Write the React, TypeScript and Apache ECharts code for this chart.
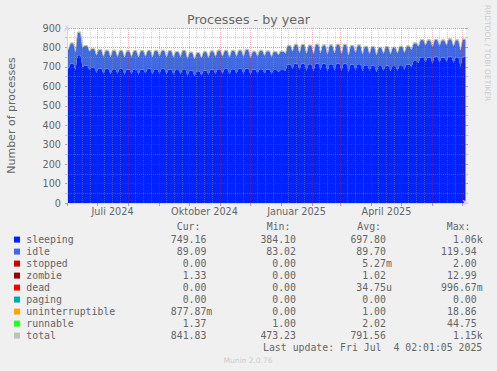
import React, { useEffect, useRef } from "react";
import * as echarts from "echarts";

// ---------- legend table ----------
const seriesNames = ["sleeping", "idle", "stopped", "zombie", "dead", "paging", "uninterruptible", "runnable", "total"];
const seriesColors = ["#0022ff", "#4169e1", "#cc0000", "#990000", "#ff0000", "#00aaaa", "#ffa500", "#22ff22", "#c0c0c0"];
const curValues = ["749.16", "89.09", "0.00", "1.33", "0.00", "0.00", "877.87m", "1.37", "841.83"];
const minValues = ["384.10", "83.02", "0.00", "0.00", "0.00", "0.00", "0.00", "1.00", "473.23"];
const avgValues = ["697.80", "89.70", "5.27m", "1.02", "34.75u", "0.00", "1.00", "2.02", "791.56"];
const maxValues = ["1.06k", "119.94", "2.00", "12.99", "996.67m", "0.00", "18.86", "44.75", "1.15k"];
const lastUpdate = "Last update: Fri Jul\u00a0\u00a04 02:01:05 2025";

// ---------- axes ----------
const yMin = 0;
const yMax = 900;
const yInterval = 100;
const xLabelDates = ["2024-07-16T12:00", "2024-10-16T12:00", "2025-01-16T12:00", "2025-04-16T12:00"];
const xLabels = ["Juli 2024", "Oktober 2024", "Januar 2025", "April 2025"];

// ---------- data: one dip (Sunday) and one plateau (Tue..Fri) per week, weeks from Sun 2 Jun 2024 ----------
const sleepingDip = [
  693, 684, 700, 684, 670, 665, 662, 665, 660, 664,
  660, 666, 662, 665, 662, 660, 664, 655, 652, 656,
  660, 664, 665, 662, 666, 664, 660, 666, 668, 665,
  672, 680, 690, 685, 680, 678, 684, 676, 682, 680,
  674, 684, 678, 680, 672, 680, 678, 680, 685, 700,
  720, 725, 718, 722, 726, 720, 700,
];
const sleepingPeak = [
  716, 760, 706, 695, 692, 690, 688, 690, 686, 688,
  686, 690, 688, 690, 686, 684, 688, 680, 678, 682,
  686, 688, 690, 688, 690, 692, 686, 688, 686, 684,
  684, 712, 718, 716, 714, 718, 716, 714, 718, 716,
  712, 714, 708, 706, 704, 706, 704, 708, 712, 730,
  750, 748, 752, 748, 754, 750, 752,
];
const idleDip = [
  96, 92, 98, 94, 88, 87, 88, 86, 88, 87,
  88, 86, 87, 88, 86, 88, 87, 86, 87, 88,
  86, 87, 88, 86, 87, 88, 86, 87, 88, 86,
  88, 87, 88, 86, 87, 88, 86, 87, 88, 87,
  86, 88, 87, 86, 88, 87, 86, 88, 87, 86,
  84, 85, 84, 86, 84, 85, 84,
];
const idlePeak = [
  104, 116, 100, 96, 94, 93, 95, 92, 94, 93,
  95, 92, 94, 93, 95, 92, 94, 93, 92, 94,
  93, 95, 92, 94, 93, 95, 92, 94, 93, 92,
  94, 96, 95, 97, 95, 96, 94, 96, 95, 97,
  95, 96, 94, 95, 93, 95, 94, 95, 93, 90,
  87, 88, 86, 88, 87, 86, 88,
];
// small series, one value per month Jun 2024 .. Jul 2025
const stoppedMonthly = [0, 0, 0, 0, 0, 0, 0, 0, 0, 0, 0, 0, 0, 0];
const zombieMonthly = [1, 1, 1, 1, 1, 1, 1, 1, 1, 1, 1, 1, 1, 1.3];
const deadMonthly = [0, 0, 0, 0, 0, 0, 0, 0, 0, 0, 0, 0, 0, 0];
const pagingMonthly = [0, 0, 0, 0, 0, 0, 0, 0, 0, 0, 0, 0, 0, 0];
const uninterruptibleMonthly = [1, 1, 1, 1, 1, 1, 1, 1, 1, 1, 1, 1, 1, 0.9];
const runnableMonthly = [2, 2, 2, 2, 2, 2, 2, 2, 2, 2, 2, 2, 2, 1.4];

const DAY = 86400000;
const xMinT = new Date(2024, 5, 1).getTime();
const xMaxT = new Date(2025, 6, 5).getTime();
const firstSunday = new Date(2024, 5, 2, 12).getTime();

const times: number[] = [xMinT];
for (let k = 0; k < sleepingDip.length; k++) {
  const sun = firstSunday + 7 * k * DAY;
  times.push(sun, sun + 2 * DAY, sun + 5 * DAY);
}
function weekly(dips: number[], peaks: number[]) {
  const out = [dips[0]];
  for (let k = 0; k < dips.length; k++) out.push(dips[k], peaks[k], peaks[k]);
  return out;
}
function monthIdx(t: number) {
  const d = new Date(t);
  return (d.getFullYear() - 2024) * 12 + d.getMonth() - 5;
}
function monthly(arr: number[]) {
  return times.map((t) => arr[Math.min(arr.length - 1, Math.max(0, monthIdx(t)))]);
}

const stackValues: number[][] = [
  weekly(sleepingDip, sleepingPeak),
  weekly(idleDip, idlePeak),
  monthly(stoppedMonthly),
  monthly(zombieMonthly),
  monthly(deadMonthly),
  monthly(pagingMonthly),
  monthly(uninterruptibleMonthly),
  monthly(runnableMonthly),
];
const totalValues = times.map((_, j) => stackValues.reduce((s, arr) => s + arr[j], 0));

// grid line dates
const majorDates: number[] = [];
const minorDates: number[] = [];
for (let m = 0; m <= 13; m++) {
  majorDates.push(new Date(2024, 5 + m, 1).getTime());
  [8, 16, 24].forEach((d) => {
    const t = new Date(2024, 5 + m, d, 12).getTime();
    if (t < xMaxT) minorDates.push(t);
  });
}
const xLabelTimes = xLabelDates.map((d) => new Date(d).getTime());

const FONT = "DejaVu Sans";
const MONO = "DejaVu Sans Mono";
const TXT = "#666666";
const MAJOR = "rgba(205,40,40,0.5)";
const MINOR = "rgba(150,150,150,0.5)";
const MAJOR_V = "rgba(205,40,40,0.33)";
const MINOR_V = "rgba(150,150,150,0.4)";
const AXIS = "#cfd6f8";

export default function App() {
  const ref = useRef<HTMLDivElement>(null);
  useEffect(() => {
    if (!ref.current) return;
    const chart = echarts.init(ref.current, null, { renderer: "svg", width: 497, height: 371 });

    const series: any[] = stackValues.map((vals, i) => ({
      type: "line",
      name: seriesNames[i],
      stack: "all",
      xAxisIndex: 0,
      yAxisIndex: 0,
      data: times.map((t, j) => [t, vals[j]]),
      showSymbol: false,
      symbol: "none",
      silent: true,
      lineStyle: { width: 0, color: seriesColors[i] },
      itemStyle: { color: seriesColors[i] },
      areaStyle: { color: seriesColors[i], opacity: 1 },
      z: 2,
    }));
    series.push({
      type: "line",
      name: "total",
      xAxisIndex: 0,
      yAxisIndex: 0,
      data: times.map((t, j) => [t, totalValues[j]]),
      showSymbol: false,
      symbol: "none",
      silent: true,
      lineStyle: { width: 1, color: "#c0c0c0" },
      z: 3,
      markLine: {
        silent: true,
        symbol: ["none", "none"],
        label: { show: false },
        animation: false,
        data: [
          ...minorDates.map((t) => ({ xAxis: t, lineStyle: { color: MINOR_V, width: 1, type: [1, 1] } })),
          ...majorDates.map((t) => ({ xAxis: t, lineStyle: { color: MAJOR_V, width: 1, type: [1, 1] } })),
        ],
      },
    });

    const graphics: any[] = [
      {
        type: "text",
        x: 248.5,
        y: 19,
        style: { text: "Processes - by year", fontFamily: FONT, fontSize: 12.7, fill: TXT, align: "center", verticalAlign: "middle" },
      },
      {
        type: "text",
        x: 11,
        y: 115.5,
        rotation: Math.PI / 2,
        style: { text: "Number of processes", fontFamily: FONT, fontSize: 11, fill: TXT, align: "center", verticalAlign: "middle" },
      },
      {
        type: "text",
        x: 487,
        y: 53,
        rotation: -Math.PI / 2,
        style: { text: "RRDTOOL / TOBI OETIKER", fontFamily: FONT, fontSize: 7.5, fill: "#cccccc", align: "center", verticalAlign: "middle" },
      },
      {
        type: "text",
        x: 248,
        y: 360,
        style: { text: "Munin 2.0.76", fontFamily: FONT, fontSize: 7.5, fill: "#cccccc", align: "center", verticalAlign: "middle" },
      },
    ];
    const mono = (text: string, x: number, y: number, align: string) => ({
      type: "text",
      x,
      y,
      style: { text, fontFamily: MONO, fontSize: 9.85, fill: TXT, align, verticalAlign: "middle" },
    });
    const headerY = 226.7;
    graphics.push(mono("Cur:", 176.7, headerY, "left"));
    graphics.push(mono("Min:", 266.7, headerY, "left"));
    graphics.push(mono("Avg:", 357.3, headerY, "left"));
    graphics.push(mono("Max:", 446.7, headerY, "left"));
    const colEnds = [212.3, 301.9, 391.9, 482.6];
    const cols = [curValues, minValues, avgValues, maxValues];
    const withUnit = (s: string) => (/[0-9]$/.test(s) ? s + "\u00a0" : s);
    seriesNames.forEach((name, i) => {
      const y = 239.3 + 12 * i;
      graphics.push({
        type: "rect",
        shape: { x: 14, y: y - 2.7, width: 6, height: 6 },
        style: { fill: seriesColors[i] },
      });
      graphics.push(mono(name, 26.3, y, "left"));
      cols.forEach((col, c) => graphics.push(mono(withUnit(col[i]), colEnds[c], y, "right")));
    });
    graphics.push(mono(lastUpdate, 482.3, 347.3, "right"));

    chart.setOption({
      animation: false,
      backgroundColor: "#f0f0f0",
      grid: {
        left: 67,
        right: 31,
        top: 28,
        bottom: 168,
        show: true,
        backgroundColor: "#ffffff",
        borderWidth: 0,
        containLabel: false,
        outerBoundsMode: "none",
      },
      xAxis: [
        {
          type: "time",
          min: xMinT,
          max: xMaxT,
          position: "bottom",
          z: 10,
          axisLine: {
            show: true,
            onZero: false,
            lineStyle: { color: AXIS, width: 1 },
            symbol: ["none", "arrow"],
            symbolSize: [5, 7],
            symbolOffset: [0, 3.5],
          },
          axisTick: { show: false },
          axisLabel: { show: false },
          splitLine: { show: false },
        },
        {
          type: "value",
          min: xMinT,
          max: xMaxT,
          position: "bottom",
          offset: 0,
          z: 10,
          axisLine: { show: false, onZero: false },
          axisTick: {
            show: true,
            customValues: majorDates,
            length: 3,
            lineStyle: { color: MAJOR },
          },
          axisLabel: {
            show: true,
            customValues: xLabelTimes,
            formatter: (v: number) => {
              const idx = xLabelTimes.findIndex((t) => Math.abs(t - v) < DAY);
              return idx >= 0 ? xLabels[idx] : "";
            },
            margin: 3,
            fontFamily: FONT,
            fontSize: 9.7,
            color: TXT,
          },
          splitLine: { show: false },
        },
      ],
      yAxis: [
        {
          type: "value",
          min: yMin,
          max: yMax,
          interval: yInterval,
          z: 10,
          axisLine: {
            show: true,
            onZero: false,
            lineStyle: { color: AXIS, width: 1 },
            symbol: ["none", "arrow"],
            symbolSize: [5, 7],
            symbolOffset: [0, 3.5],
          },
          axisTick: { show: true, length: 2, lineStyle: { color: MAJOR } },
          minorTick: { show: true, splitNumber: 2, length: 2, lineStyle: { color: MINOR } },
          axisLabel: { margin: 6, fontFamily: FONT, fontSize: 9.7, color: TXT },
          splitLine: { show: true, lineStyle: { color: MAJOR, width: 1, type: [1, 1] } },
          minorSplitLine: { show: true, lineStyle: { color: MINOR, width: 1, type: [1, 1] } },
        },
        {
          type: "value",
          position: "right",
          min: yMin,
          max: yMax,
          interval: yInterval,
          z: 10,
          axisLine: { show: false },
          axisTick: { show: true, length: 2, lineStyle: { color: MAJOR } },
          minorTick: { show: true, splitNumber: 2, length: 2, lineStyle: { color: MINOR } },
          axisLabel: { show: false },
          splitLine: { show: false },
        },
      ],
      series,
      graphic: { elements: graphics },
    });
    return () => chart.dispose();
  }, []);
  return <div ref={ref} style={{ position: "absolute", left: 0, top: 0, width: 497, height: 371 }} />;
}
